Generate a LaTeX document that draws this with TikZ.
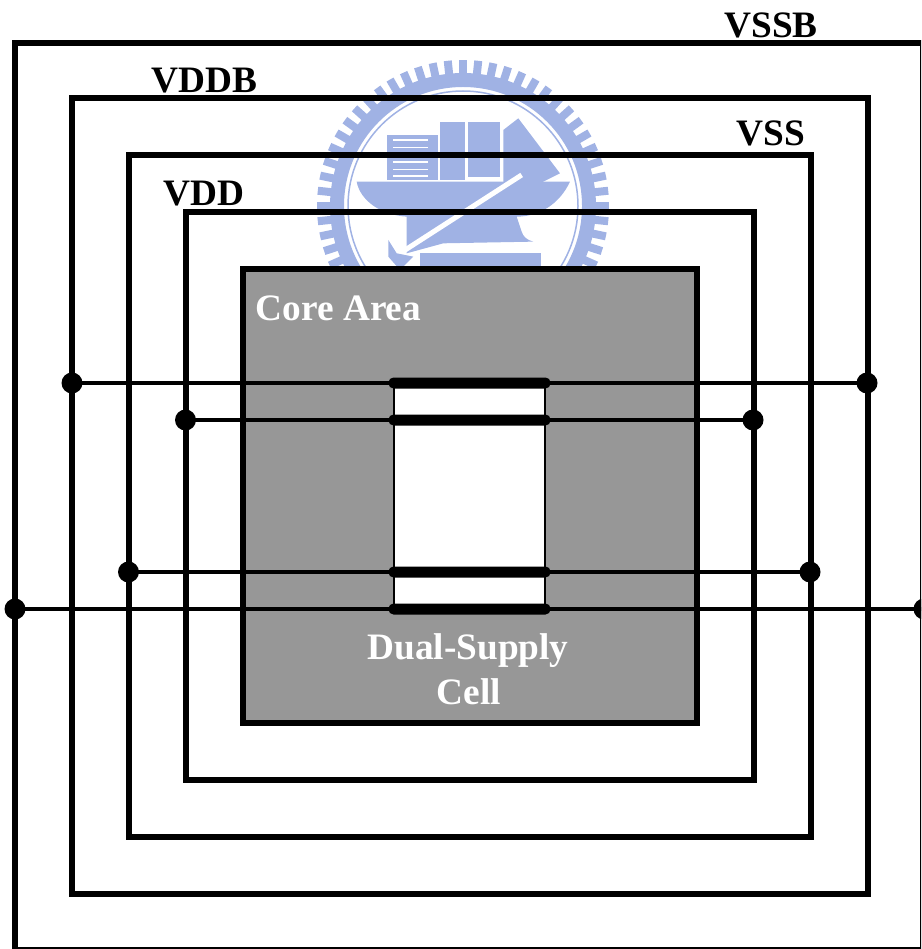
\documentclass[tikz,border=0pt]{standalone}
\usepackage{fontspec}
\setmainfont{Liberation Serif}
\usetikzlibrary{shapes,calc}
\definecolor{emblem}{RGB}{160,178,228}
\definecolor{corearea}{RGB}{151,151,151}
\tikzstyle{ring} = [rectangle, draw, line width=6pt, inner sep=0pt, outer sep=0pt]
\tikzstyle{cell} = [rectangle, draw, fill=white, line width=1.1pt, inner sep=0pt, outer sep=0pt]
\tikzstyle{pad} = [rectangle, fill=black, rounded corners=5pt, minimum width=162pt, minimum height=11pt, inner sep=0pt]
\tikzstyle{dot} = [circle, fill=black, minimum size=21pt, inner sep=0pt]
\tikzstyle{line} = [draw, line width=3.2pt]
\tikzstyle{label} = [font=\fontsize{37.3}{44}\selectfont\bfseries, anchor=base, inner sep=0pt, align=center]

\begin{document}
\begin{tikzpicture}[x=1pt, y=-1pt]
    \useasboundingbox (0,0) rectangle (921,949);
    \clip (0,0) rectangle (921,949);
    % Emblem behind the rails
    \fill [emblem, even odd rule] (463,206) circle (133) (463,206) circle (119);
    \draw [emblem, line width=1.5pt] (463,206) circle (115);
    \foreach \ang in {0,6,...,354}
        \draw [emblem, line width=8pt] ($(463,206)+(\ang:130)$) -- ($(463,206)+(\ang:146)$);
    \begin{scope}[shift={(300,40)}, x=0.3333pt, y=-0.3333pt]
        \fill [emblem] (260,285) rectangle (415,420);
        \foreach \row in {300,322,344,366,388,408}
            \draw [white, line width=1.2pt] (280,\row) -- (385,\row);
        \fill [emblem] (420,245) rectangle (495,420);
        \fill [emblem] (505,245) rectangle (600,410);
        \fill [emblem] (610,270) -- (655,235) -- (780,400) -- (700,440) -- (610,430) -- cycle;
        \fill [emblem] (170,425) -- (810,425) .. controls (780,490) and (720,530) .. (650,530)
            -- (665,575) .. controls (670,590) and (680,600) .. (700,605) -- (430,610) -- (320,640) -- (320,530)
            .. controls (240,525) and (180,480) .. (170,425) -- cycle;
        \draw [white, line width=5pt] (665,405) -- (300,640);
        \fill [emblem] (265,600) -- (290,640) -- (340,650) -- (300,690) -- (265,650) -- cycle;
        \fill [emblem] (360,640) rectangle (722,690);
    \end{scope}
    % Place nodes
    \node [ring, minimum width=908pt, minimum height=907pt] (vssb) at (469,496.5) {};
    \node [ring, minimum width=796pt, minimum height=795pt] (vddb) at (469.5,496) {};
    \node [ring, minimum width=682pt, minimum height=681pt] (vss) at (469.5,496) {};
    \node [ring, minimum width=568pt, minimum height=567pt] (vdd) at (469.5,496) {};
    \node [ring, fill=corearea, minimum width=454pt, minimum height=453pt] (core) at (469.5,496) {};
    \node [cell, minimum width=151pt, minimum height=226pt] (dual) at (469.5,496) {};
    \node [dot] (vddbl) at (72,383) {};
    \node [dot] (vddbr) at (867,383) {};
    \node [dot] (vddl) at (185.5,420) {};
    \node [dot] (vddr) at (753,420) {};
    \node [dot] (vssl) at (128.5,572) {};
    \node [dot] (vssr) at (810,572) {};
    \node [dot] (vssbl) at (15,609) {};
    \node [dot] (vssbr) at (924,609) {};
    % Draw edges
    \path [line] (vddbl.center) -- (vddbr.center);
    \path [line] (vddl.center) -- (vddr.center);
    \path [line] (vssl.center) -- (vssr.center);
    \path [line] (vssbl.center) -- (vssbr.center);
    \node [pad] (pad1) at (469.5,383) {};
    \node [pad] (pad2) at (469.5,420) {};
    \node [pad] (pad3) at (469.5,572) {};
    \node [pad] (pad4) at (469.5,609) {};
    % Labels
    \node [label] (vssbtext) at (771,38) {VSSB};
    \node [label] (vddbtext) at (204.5,93) {VDDB};
    \node [label] (vsstext) at (771,146) {VSS};
    \node [label] (vddtext) at (204,206) {VDD};
    \node [label, white] (coretext) at (338.5,320) {Core Area};
    \node [label, white] (dualtext) at (468,659) {Dual-Supply};
    \node [label, white] (celltext) at (469,704) {Cell};
\end{tikzpicture}
\end{document}
